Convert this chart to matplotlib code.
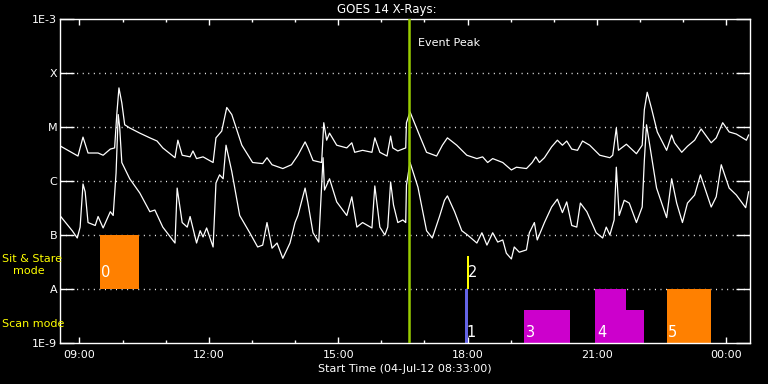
import numpy as np
import matplotlib
matplotlib.use("Agg")
import matplotlib.pyplot as plt
from matplotlib.ticker import FixedLocator

# ---- data: minutes after start time 04-Jul-12 08:33:00, flux in W/m^2 ----
long_t = [1, 25, 32, 39, 53, 60, 70, 76, 79, 82, 86, 90, 97, 111, 125, 135, 143, 160, 164, 170,
          181, 185, 190, 199, 213, 217, 225, 232, 239, 253, 268, 282, 288, 295, 310, 322, 331, 341,
          345, 352, 364, 367, 371, 375, 385, 399, 406, 410, 421, 434, 438, 445, 455, 460, 463, 470,
          481, 482, 487, 500, 510, 524, 532, 539, 552, 566, 580, 588, 595, 602, 616, 628, 635, 649,
          657, 662, 667, 674, 684, 692, 699, 705, 712, 720, 727, 737, 751, 765, 769, 774, 777, 788,
          802, 810, 813, 817, 823, 831, 844, 851, 855, 865, 873, 883, 892, 906, 913, 922, 931, 941,
          955, 958]
long_f = [4.4e-6, 2.9e-6, 6.5e-6, 3.3e-6, 3.3e-6, 3.0e-6, 3.9e-6, 4.1e-6, 1.7e-5, 5.3e-5, 2.8e-5,
          1.1e-5, 9.6e-6, 7.7e-6, 6.3e-6, 5.5e-6, 4.1e-6, 2.7e-6, 5.7e-6, 3.0e-6, 2.8e-6, 3.6e-6,
          2.6e-6, 2.8e-6, 2.2e-6, 6.3e-6, 8.4e-6, 2.3e-5, 1.7e-5, 4.6e-6, 2.2e-6, 2.1e-6, 2.7e-6,
          2.0e-6, 1.7e-6, 2.0e-6, 3.0e-6, 5.3e-6, 4.1e-6, 2.4e-6, 2.2e-6, 1.2e-5, 5.7e-6, 7.7e-6,
          4.6e-6, 4.1e-6, 5.1e-6, 3.4e-6, 3.7e-6, 3.4e-6, 6.3e-6, 3.4e-6, 2.9e-6, 6.8e-6, 4.1e-6,
          3.6e-6, 4.1e-6, 1.2e-5, 1.9e-5, 7.1e-6, 3.4e-6, 2.9e-6, 4.6e-6, 6.3e-6, 4.6e-6, 3.0e-6,
          2.6e-6, 2.8e-6, 2.2e-6, 2.6e-6, 2.2e-6, 1.6e-6, 1.8e-6, 1.7e-6, 2.2e-6, 2.8e-6, 2.2e-6,
          2.7e-6, 4.3e-6, 5.7e-6, 4.6e-6, 5.5e-6, 3.9e-6, 3.7e-6, 5.5e-6, 4.6e-6, 3.0e-6, 2.7e-6,
          3.0e-6, 9.6e-6, 3.7e-6, 4.8e-6, 3.2e-6, 4.6e-6, 2.1e-5, 4.4e-5, 2.2e-5, 8.1e-6, 3.7e-6,
          7.1e-6, 5.1e-6, 3.4e-6, 4.4e-6, 5.7e-6, 9.2e-6, 5.1e-6, 6.3e-6, 1.2e-5, 8.1e-6, 7.4e-6,
          5.7e-6, 7.1e-6]

short_t = [1, 17, 24, 28, 32, 35, 39, 49, 53, 60, 70, 74, 78, 81, 83, 86, 97, 111, 125, 132, 143,
           160, 163, 170, 177, 181, 190, 195, 199, 204, 213, 217, 222, 227, 231, 239, 250, 264, 275,
           282, 288, 295, 302, 310, 320, 327, 331, 341, 345, 352, 360, 366, 368, 375, 385, 399, 406,
           413, 421, 434, 438, 445, 452, 456, 460, 464, 470, 477, 481, 482, 487, 498, 510, 518, 528,
           535, 539, 549, 559, 567, 580, 587, 594, 602, 609, 616, 621, 628, 632, 639, 649, 653, 660,
           664, 674, 684, 692, 699, 705, 712, 719, 724, 733, 746, 755, 760, 765, 771, 774, 778, 785,
           792, 802, 810, 813, 816, 820, 830, 844, 851, 858, 866, 873, 883, 891, 906, 913, 920, 931,
           941, 954, 958]
short_f = [2.2e-7, 1.2e-7, 8.8e-8, 1.4e-7, 8.8e-7, 6.3e-7, 1.7e-7, 1.5e-7, 2.2e-7, 1.35e-7, 2.7e-7,
           2.3e-7, 1.4e-6, 1.7e-5, 1.0e-5, 2.2e-6, 1.1e-6, 6.0e-7, 2.7e-7, 2.9e-7, 1.4e-7, 7.1e-8,
           7.4e-7, 1.7e-7, 1.4e-7, 2.2e-7, 7.1e-8, 1.2e-7, 9.2e-8, 1.35e-7, 6.0e-8, 9.2e-7, 1.3e-6,
           1.1e-6, 4.6e-6, 1.5e-6, 2.3e-7, 1.1e-7, 6.0e-8, 6.5e-8, 1.7e-7, 5.7e-8, 7.1e-8, 3.7e-8,
           7.1e-8, 1.7e-7, 2.3e-7, 7.4e-7, 3.9e-7, 1.1e-7, 7.4e-8, 2.7e-6, 6.8e-7, 1.1e-6, 4.1e-7,
           2.3e-7, 5.1e-7, 1.4e-7, 1.7e-7, 1.35e-7, 8.1e-7, 1.4e-7, 1.0e-7, 1.4e-7, 9.6e-7, 3.6e-7,
           1.7e-7, 1.9e-7, 1.7e-7, 8.4e-7, 2.2e-6, 7.7e-7, 1.2e-7, 8.8e-8, 2.2e-7, 4.4e-7, 5.3e-7,
           2.7e-7, 1.2e-7, 1.0e-7, 7.1e-8, 1.1e-7, 6.5e-8, 1.1e-7, 7.4e-8, 8.1e-8, 4.6e-8, 3.6e-8,
           6.0e-8, 4.8e-8, 5.3e-8, 1.1e-7, 1.7e-7, 8.1e-8, 1.7e-7, 3.3e-7, 4.6e-7, 2.6e-7, 4.1e-7,
           1.5e-7, 1.4e-7, 3.9e-7, 2.7e-7, 1.1e-7, 8.8e-8, 1.4e-7, 1.0e-7, 1.9e-7, 1.8e-6, 2.3e-7,
           4.4e-7, 3.9e-7, 1.7e-7, 3.3e-7, 2.4e-6, 1.1e-5, 5.1e-6, 7.4e-7, 2.1e-7, 1.1e-6, 3.9e-7,
           1.7e-7, 3.9e-7, 5.5e-7, 1.3e-6, 3.3e-7, 5.1e-7, 2.0e-6, 7.4e-7, 5.5e-7, 3.2e-7, 6.3e-7]

event_peak_t = 485

# observation blocks (minutes after start)
seg_start = [55, 563, 566, 646, 745, 788, 844]
seg_end = [110, 568, 569, 710, 788, 813, 906]
seg_bottom = [1e-8, 1e-9, 1e-8, 1e-9, 1e-9, 1e-9, 1e-9]
seg_top = [1e-7, 1e-8, 4.1e-8, 4.1e-9, 1e-8, 4.1e-9, 1e-8]
seg_label = ['0', '1', '2', '3', '4', '', '5']
seg_color = ['#FF8000', '#6464E6', '#FFFF00', '#CC00CC', '#CC00CC', '#CC00CC', '#FF8000']

ytick_vals = [1e-9, 1e-8, 1e-7, 1e-6, 1e-5, 1e-4, 1e-3]
ytick_labels = ['1E-9', 'A', 'B', 'C', 'M', 'X', '1E-3']
xtick_vals = [27, 207, 387, 567, 747, 927]
xtick_labels = ['09:00', '12:00', '15:00', '18:00', '21:00', '00:00']

W, H = 768, 384
fig = plt.figure(figsize=(W / 100, H / 100), dpi=100, facecolor='black')
ax = fig.add_axes([60 / W, 1 - 343 / H, 690 / W, 324 / H], facecolor='black')
ax.set_yscale('log')
ax.set_xlim(0, 960)
ax.set_ylim(1e-9, 1e-3)

for lvl in ytick_vals[1:-1]:
    ax.axhline(lvl, color='white', lw=1.0, ls=(0, (0.7, 3.3)), zorder=1)

ax.plot(long_t, long_f, color='white', lw=0.9, zorder=3)
ax.plot(short_t, short_f, color='white', lw=0.9, zorder=3)

for s, e, b, t, lab, c in zip(seg_start, seg_end, seg_bottom, seg_top, seg_label, seg_color):
    ax.bar(s, t - b, width=e - s, bottom=b, align='edge', color=c, lw=0, zorder=2)
    if lab:
        up = 0.31 if b >= 1e-8 else 0.2
        ax.annotate(lab, xy=(s, b * 10 ** up), xytext=(1, 0), textcoords='offset points',
                    color='white', fontsize=10.5, ha='left', va='center', zorder=5)

ax.axvline(event_peak_t, color='#99CC00', lw=1.8, zorder=4)
ax.annotate('Event Peak', xy=(event_peak_t, 1e-3), xytext=(7, -17.5), textcoords='offset points',
            color='white', fontsize=8, ha='left', va='center')

for sp in ax.spines.values():
    sp.set_color('white')
    sp.set_linewidth(1.0)

ax.yaxis.set_major_locator(FixedLocator(ytick_vals))
ax.yaxis.set_minor_locator(FixedLocator([]))
ax.set_yticklabels(ytick_labels)
ax.tick_params(axis='y', which='major', direction='in', length=10, width=1, color='white',
               labelcolor='white', labelsize=8, left=True, right=True, pad=2)

ax.xaxis.set_major_locator(FixedLocator(xtick_vals))
ax.xaxis.set_minor_locator(FixedLocator(np.arange(27, 960, 60)))
ax.set_xticklabels(xtick_labels)
ax.tick_params(axis='x', which='major', direction='in', length=4.3, width=1, color='white',
               labelcolor='white', labelsize=8, bottom=True, top=True, pad=5)
ax.tick_params(axis='x', which='minor', direction='in', length=2.2, width=1, color='white',
               bottom=True, top=True)
ax.set_xlabel('Start Time (04-Jul-12 08:33:00)', color='white', fontsize=8, labelpad=3)

fig.text(387 / W, 1 - 9 / H, 'GOES 14 X-Rays:', color='white', fontsize=8.5, ha='center', va='center')
fig.text(2 / W, 1 - 259 / H, 'Sit & Stare', color='#FFFF00', fontsize=8, ha='left', va='center')
fig.text(13 / W, 1 - 271 / H, 'mode', color='#FFFF00', fontsize=8, ha='left', va='center')
fig.text(2 / W, 1 - 324 / H, 'Scan mode', color='#FFFF00', fontsize=8, ha='left', va='center')

fig.savefig('out.png', dpi=100, facecolor='black')
